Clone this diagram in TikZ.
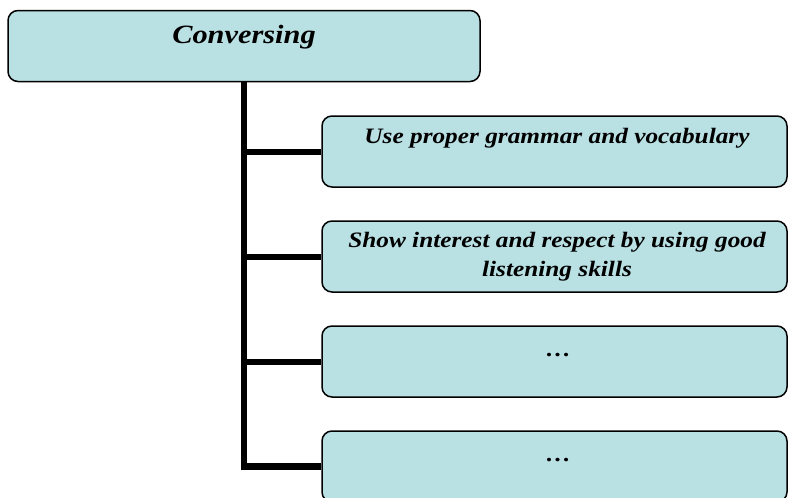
\documentclass[tikz,border=0pt]{standalone}
\usepackage{fontspec}
\newfontfamily\boxfont{Liberation Serif}[FakeStretch=1.15]
\definecolor{boxfill}{HTML}{B9E0E3}
\begin{document}
\begin{tikzpicture}[x=1pt, y=-1pt,
  box/.style={draw=black, line width=1.5pt, fill=boxfill, rounded corners=10pt,
    inner sep=0pt, minimum height=71pt},
  titlebox/.style={box, minimum width=472pt},
  itembox/.style={box, minimum width=465pt},
  titletext/.style={anchor=base, inner sep=0pt,
    font=\boxfont\bfseries\itshape\fontsize{26.4}{30}\selectfont},
  itemtext/.style={anchor=base, inner sep=0pt, align=center,
    font=\boxfont\bfseries\itshape\fontsize{22}{29}\selectfont},
  trunk/.style={line width=6.5pt, line cap=butt, line join=miter},
  branch/.style={line width=6pt}]
\useasboundingbox (0,0) rectangle (788,498);
\clip (0,0) rectangle (788,498);

% main topic and the four points under it
\node[titlebox] (title) at (244,46) {};
\node[itembox] (c1) at (554.5,151.5) {};
\node[itembox] (c2) at (554.5,256.5) {};
\node[itembox] (c3) at (554.5,361.5) {};
\node[itembox] (c4) at (554.5,466.5) {};

% texts, set on a baseline below each box top
\node[titletext] (t0) at ([yshift=-34pt]title.north) {Conversing};
\node[itemtext] (t1) at ([xshift=2.5pt,yshift=-28pt]c1.north) {Use proper grammar and vocabulary};
\node[itemtext, anchor=north] (t2) at ([xshift=2.5pt,yshift=-11.5pt]c2.north)
  {Show interest and respect by using good\\listening skills};
\node[itemtext] (t3) at ([xshift=4pt,yshift=-31pt]c3.north) {\dots};
\node[itemtext] (t4) at ([xshift=4pt,yshift=-31pt]c4.north) {\dots};

% tree connectors
\draw[trunk] (title.south) |- (c4.west);
\draw[branch] (title.south |- c1.west) -- (c1.west);
\draw[branch] (title.south |- c2.west) -- (c2.west);
\draw[branch] (title.south |- c3.west) -- (c3.west);
\end{tikzpicture}
\end{document}
